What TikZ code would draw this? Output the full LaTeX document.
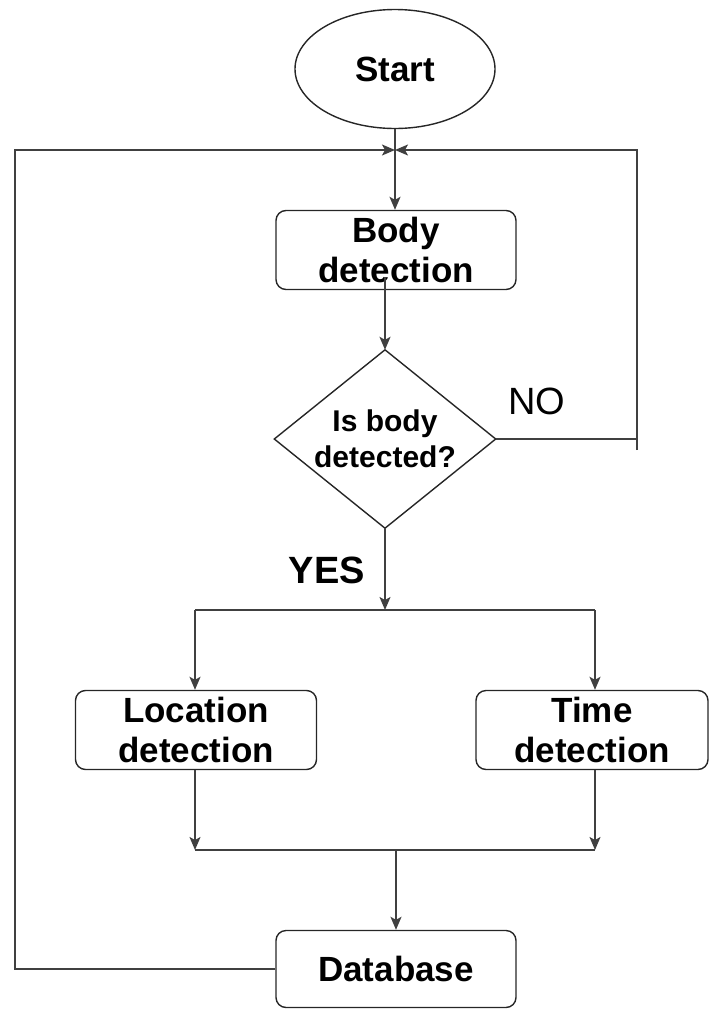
\documentclass[tikz,border=0pt]{standalone}
\usepackage{fontspec}
\setmainfont{Liberation Sans}
\usetikzlibrary{shapes.geometric,arrows.meta,calc}
\begin{document}
\begin{tikzpicture}[x=1pt,y=-1pt,
  shapeline/.style={draw=black!85,line width=1.4pt},
  box/.style={shapeline,rounded corners=10pt,minimum width=240pt,minimum height=79pt,inner sep=0pt,align=center,font=\fontsize{35}{40}\selectfont\bfseries},
  conn/.style={draw=black!75,line width=1.6pt},
  arr/.style={conn,-{Stealth[length=13pt,width=11pt,inset=3pt]}},
  lbl/.style={inner sep=0pt,font=\fontsize{38}{42}\selectfont}
]
\useasboundingbox (0,0) rectangle (709,1010);
% nodes
\node[shapeline,ellipse,minimum width=200pt,minimum height=119pt,inner sep=0pt,font=\fontsize{35}{40}\selectfont\bfseries] (start) at (395,69) {Start};
\node[box] (body) at (396,250) {Body\\detection};
\node[minimum width=221pt,minimum height=178pt,inner sep=0pt,align=center,font=\fontsize{30}{36}\selectfont\bfseries] (dec) at (385,439) {Is body\\detected?};
\draw[shapeline] (dec.north) -- (dec.east) -- (dec.south) -- (dec.west) -- cycle;
\node[box,minimum width=241pt] (loc) at (196,730) {Location\\detection};
\node[box,minimum width=232pt] (time) at (592,730) {Time\\detection};
\node[box,minimum height=77pt] (db) at (396,969) {Database};
\node[lbl] (no) at (537,401) {NO};
\node[lbl,font=\fontsize{38}{42}\selectfont\bfseries] (yes) at (327,570) {YES};
% helper coordinates
\coordinate (j) at (395,150);
\coordinate (nR) at (637,439);
\coordinate (nB) at (637,450);
\coordinate (nT) at (637,150);
\coordinate (lB) at (15,969);
\coordinate (lT) at (15,150);
\coordinate (sC) at (385,610);
\coordinate (sL) at (195,610);
\coordinate (sR) at (595,610);
\coordinate (mL) at (195,850);
\coordinate (mR) at (595,850);
\coordinate (mC) at (396,850);
% connectors
\draw[arr] (start.south) -- (body.north -| start.south);
\draw[arr] ($(body.south -| dec.north)+(0,-13)$) -- (dec.north);
\draw[conn] (dec.east) -- (nR);
\draw[arr] (nB) -- (nT) -- (j);
\draw[arr] (db.west) -- (lB) -- (lT) -- (j);
\draw[arr] (dec.south) -- (sC);
\draw[conn] (sL) -- (sR);
\draw[arr] (sL) -- (loc.north -| sL);
\draw[arr] (sR) -- (time.north -| sR);
\draw[arr] (loc.south -| mL) -- (mL);
\draw[arr] (time.south -| mR) -- (mR);
\draw[conn] (mL) -- (mR);
\draw[arr] (mC) -- (db.north);
\end{tikzpicture}
\end{document}
